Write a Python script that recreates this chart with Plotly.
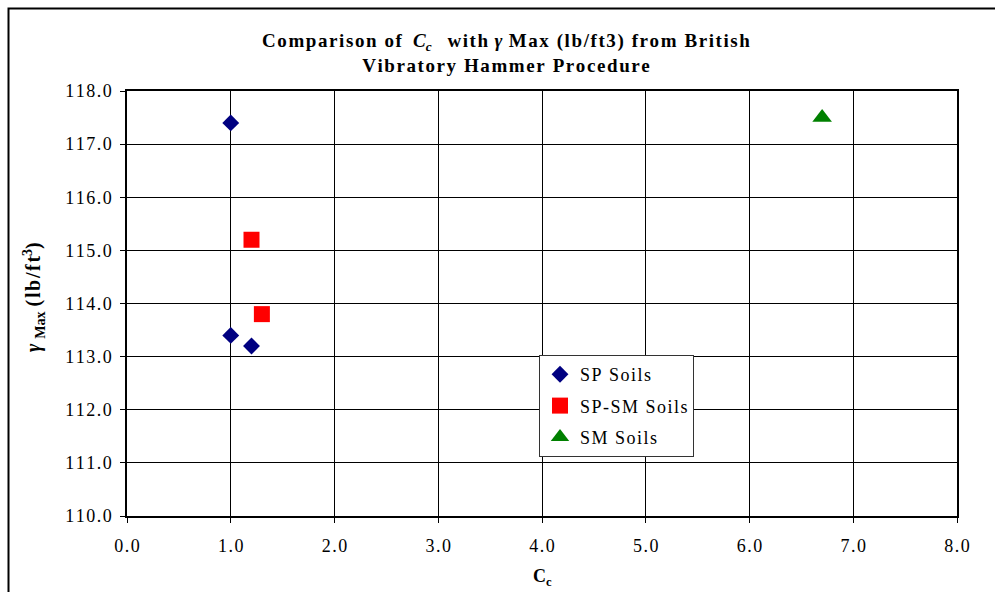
import plotly.graph_objects as go

# Compaction data: coefficient of curvature vs. maximum dry unit weight
sp_cc = [1.0, 1.0, 1.2]
sp_gamma = [117.4, 113.4, 113.2]

spsm_cc = [1.2, 1.3]
spsm_gamma = [115.2, 113.8]

sm_cc = [6.7]
sm_gamma = [117.5]

x_ticks = [0, 1, 2, 3, 4, 5, 6, 7, 8]
y_ticks = [110, 111, 112, 113, 114, 115, 116, 117, 118]

W, H = 995, 592
L, R, T, B = 127, 38, 91, 76
PW, PH = W - L - R, H - T - B

HAIR = "\u200a"


def spaced(s):
    """Widen a plain string by putting a hair space between its characters."""
    return HAIR.join(s)


def px_x(px):
    return (px - L) / PW


def px_y(py):
    return (H - B - py) / PH


FONT = "Liberation Serif"

fig = go.Figure()
fig.add_trace(go.Scatter(
    x=sp_cc, y=sp_gamma, mode="markers", name=spaced("SP Soils"), legendgroup="a",
    marker=dict(symbol="diamond", size=13, color="#000080"),
))
fig.add_trace(go.Scatter(
    x=spsm_cc, y=spsm_gamma, mode="markers", name=spaced("SP-SM Soils"), legendgroup="b",
    marker=dict(symbol="square", size=16, color="#ff0000"),
))
fig.add_trace(go.Scatter(
    x=sm_cc, y=sm_gamma, mode="markers", name=spaced("SM Soils"), legendgroup="c",
    marker=dict(symbol="triangle-up", size=17, color="#008000"),
))

axis_common = dict(
    showgrid=True, gridcolor="#000000", gridwidth=1,
    showline=True, linecolor="#000000", linewidth=1.5, mirror=True,
    ticks="outside", ticklen=5, tickcolor="#000000",
    tickfont=dict(family=FONT, size=18, color="#000000"),
    zeroline=False,
)

fig.update_layout(
    width=W, height=H,
    margin=dict(l=L, r=R, t=T, b=B),
    paper_bgcolor="#ffffff", plot_bgcolor="#ffffff",
    font=dict(family=FONT, color="#000000"),
    showlegend=True,
    legend=dict(
        x=px_x(539), y=px_y(355), xanchor="left", yanchor="top",
        bgcolor="#ffffff", bordercolor="#333333", borderwidth=1,
        font=dict(family=FONT, size=18, color="#000000"),
        itemsizing="trace", tracegroupgap=5,
    ),
    xaxis=dict(axis_common, range=[0, 8], tickvals=x_ticks,
               ticktext=[spaced(f"{v:.1f}") for v in x_ticks], ticklabelstandoff=8),
    yaxis=dict(axis_common, range=[110, 118], tickvals=y_ticks,
               ticktext=[spaced(f"{v:.1f}") for v in y_ticks], ticklabelstandoff=5),
    shapes=[
        dict(type="rect", xref="paper", yref="paper",
             x0=px_x(8.5), x1=px_x(1010), y0=px_y(8.5), y1=px_y(610),
             line=dict(color="#000000", width=2), layer="below"),
    ],
    annotations=[
        dict(xref="paper", yref="paper", x=px_x(506), y=px_y(53),
             xanchor="center", yanchor="middle", showarrow=False,
             text=("<b>" + spaced("Comparison of ") + " <i>C<sub>c</sub></i>  " + spaced(" with ")
                   + "<i>γ</i>" + spaced(" Max (lb/ft3) from British") + "<br>"
                   + spaced("Vibratory Hammer Procedure") + "</b>"),
             font=dict(family=FONT, size=19, color="#000000")),
        dict(xref="paper", yref="paper", x=px_x(542), y=px_y(577),
             xanchor="center", yanchor="middle", showarrow=False,
             text="<b>C<sub>c</sub></b>",
             font=dict(family=FONT, size=18, color="#000000")),
        dict(xref="paper", yref="paper", x=px_x(34), y=px_y(297),
             xanchor="center", yanchor="middle", showarrow=False, textangle=-90,
             text="<b><i>γ</i> <sub>Max</sub> " + spaced("(lb/ft") + "<sup>3</sup>)</b>",
             font=dict(family=FONT, size=20, color="#000000")),
    ],
)

fig.write_html("out.html")
